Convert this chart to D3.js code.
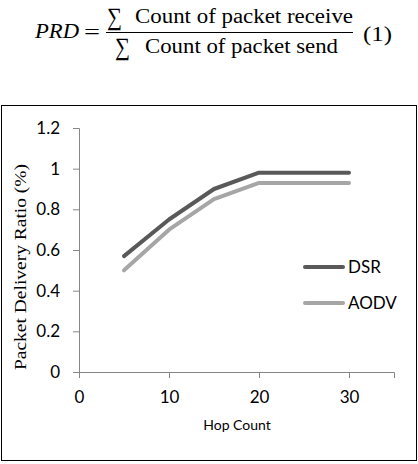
<!DOCTYPE html>
<html>
<head>
<meta charset="utf-8">
<script src="https://cdn.jsdelivr.net/npm/d3@7"></script>
<style>
  body { margin: 0; background: #fff; }
  svg { display: block; }
  .tick text { font-family: Lato, "Open Sans", sans-serif; font-size: 17px; fill: #000; }
  .axis path, .axis line { stroke: #868686; }
</style>
</head>
<body>
<div id="chart"></div>
<script>
var svgWidth = 418;
var svgHeight = 464;

// chart data
var hopCount = [5, 10, 15, 20, 25, 30];
var dsr = [0.57, 0.75, 0.9, 0.98, 0.98, 0.98];
var aodv = [0.5, 0.7, 0.85, 0.93, 0.93, 0.93];
var seriesNames = ["DSR", "AODV"];
var seriesColors = ["#595959", "#a6a6a6"];
var xTicks = [0, 10, 20, 30];
var yTicks = [0, 0.2, 0.4, 0.6, 0.8, 1, 1.2];

var svg = d3.select("#chart").append("svg")
  .attr("width", svgWidth)
  .attr("height", svgHeight);

// formula above the chart
var formula = svg.append("g")
  .attr("font-family", "'Liberation Serif', 'DejaVu Serif', serif")
  .attr("fill", "#000");

function ftext(x, y, size, str, len) {
  var t = formula.append("text")
    .attr("x", x).attr("y", y)
    .attr("font-size", size)
    .text(str);
  if (len) t.attr("textLength", len).attr("lengthAdjust", "spacingAndGlyphs");
  return t;
}

ftext(35, 38, 21, "PRD", 44).attr("font-style", "italic");
ftext(84, 39, 22, "=", 16);
formula.append("line")
  .attr("x1", 106).attr("x2", 353)
  .attr("y1", 32.5).attr("y2", 32.5)
  .attr("stroke", "#000").attr("stroke-width", 1.2);
ftext(107, 25, 25, "\u2211", 15);
ftext(135, 23, 20, "Count of packet receive", 218);
ftext(115, 55, 25, "\u2211", 15);
ftext(145, 53, 20, "Count of packet send", 193);
ftext(363, 41, 21, "(1)", 29);

// chart frame
svg.append("rect")
  .attr("x", 1.5).attr("y", 105.5)
  .attr("width", 415).attr("height", 355)
  .attr("fill", "none")
  .attr("stroke", "#000")
  .attr("stroke-width", 1);

var xScale = d3.scaleLinear().domain([0, 35]).range([79, 394]);
var yScale = d3.scaleLinear().domain([0, 1.2]).range([372, 128]);

var bottomAxis = d3.axisBottom(xScale)
  .tickValues(xTicks)
  .tickSizeOuter(0)
  .tickSize(6)
  .tickPadding(13)
  .tickFormat(d3.format("d"));

var leftAxis = d3.axisLeft(yScale)
  .tickValues(yTicks)
  .tickSizeOuter(0)
  .tickSize(6)
  .tickPadding(13)
  .tickFormat(function(d) { return d === 0 || d === 1 ? d3.format("d")(d) : d3.format(".1f")(d); });

svg.append("g")
  .attr("class", "axis")
  .attr("transform", "translate(0," + yScale(0) + ")")
  .call(bottomAxis);

svg.append("g")
  .attr("class", "axis")
  .attr("transform", "translate(" + xScale(0) + ",0)")
  .call(leftAxis);

svg.selectAll(".axis .domain").attr("stroke", "#868686");

// lines
var line = d3.line()
  .x(function(d, i) { return xScale(hopCount[i]); })
  .y(function(d) { return yScale(d); });

[dsr, aodv].forEach(function(values, i) {
  svg.append("path")
    .datum(values)
    .attr("d", line)
    .attr("fill", "none")
    .attr("stroke", seriesColors[i])
    .attr("stroke-width", 4)
    .attr("stroke-linecap", "round")
    .attr("stroke-linejoin", "round");
});

// legend
var legend = svg.append("g");
seriesNames.forEach(function(name, i) {
  var ly = 267 + i * 36;
  legend.append("line")
    .attr("x1", 305).attr("x2", 343)
    .attr("y1", ly).attr("y2", ly)
    .attr("stroke", seriesColors[i])
    .attr("stroke-width", 4)
    .attr("stroke-linecap", "round");
  legend.append("text")
    .attr("x", 348).attr("y", ly + 6)
    .attr("font-family", "Lato, 'Open Sans', sans-serif")
    .attr("font-size", 17)
    .text(name);
});

// axis titles
svg.append("text")
  .attr("x", 237).attr("y", 430)
  .attr("text-anchor", "middle")
  .attr("font-family", "Lato, 'Open Sans', sans-serif")
  .attr("font-size", 14)
  .text("Hop Count");

svg.append("text")
  .attr("transform", "translate(26,267) rotate(-90)")
  .attr("text-anchor", "middle")
  .attr("font-family", "'Liberation Serif', 'DejaVu Serif', serif")
  .attr("font-size", 17)
  .attr("textLength", 206)
  .attr("lengthAdjust", "spacingAndGlyphs")
  .text("Packet Delivery Ratio (%)");
</script>
</body>
</html>
